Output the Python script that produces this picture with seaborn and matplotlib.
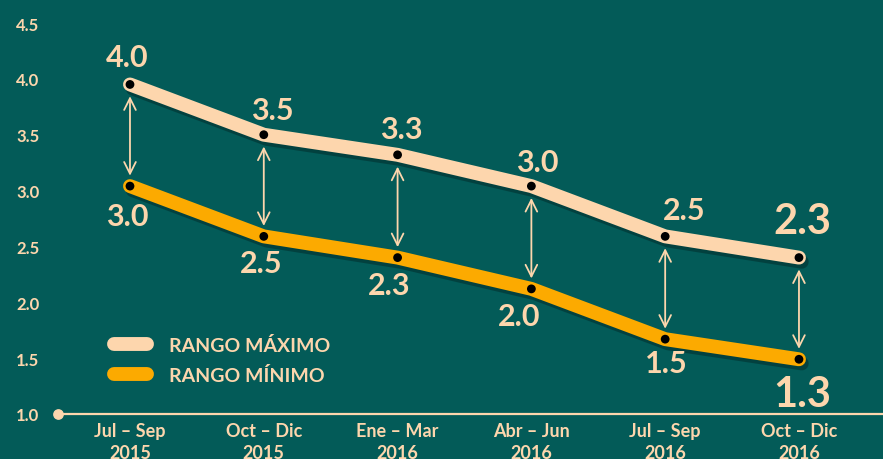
import matplotlib

matplotlib.use("Agg")
import matplotlib.patheffects as pe
import matplotlib.pyplot as plt
import numpy as np
import pandas as pd
import seaborn as sns

# data
periodos = [
    "Jul – Sep\n2015",
    "Oct – Dic\n2015",
    "Ene – Mar\n2016",
    "Abr – Jun\n2016",
    "Jul – Sep\n2016",
    "Oct – Dic\n2016",
]
rango_maximo = [3.95, 3.50, 3.32, 3.04, 2.59, 2.40]
rango_minimo = [3.04, 2.59, 2.40, 2.12, 1.67, 1.49]
etiquetas_max = ["4.0", "3.5", "3.3", "3.0", "2.5", "2.3"]
etiquetas_min = ["3.0", "2.5", "2.3", "2.0", "1.5", "1.3"]
y_ticks = [1.0, 1.5, 2.0, 2.5, 3.0, 3.5, 4.0, 4.5]

BG = "#035b58"
PEACH = "#fdd6ad"
ORANGE = "#fcaa00"

sns.set_theme(style="white")
plt.rcParams["font.family"] = ["Lato", "DejaVu Sans"]
plt.rcParams["font.weight"] = "bold"

fig = plt.figure(figsize=(8.83, 4.6), dpi=100, facecolor=BG)
ax = fig.add_axes([58 / 883, 45 / 460, 825 / 883, 391 / 460])
ax.set_facecolor(BG)

x = np.arange(len(periodos))
frame = pd.DataFrame(
    {
        "x": np.concatenate([x, x]),
        "valor": rango_maximo + rango_minimo,
        "serie": ["RANGO MÁXIMO"] * len(x) + ["RANGO MÍNIMO"] * len(x),
    }
)

shadow = [pe.SimpleLineShadow(offset=(2, -3), shadow_color="black", alpha=0.28), pe.Normal()]
sns.lineplot(
    data=frame,
    x="x",
    y="valor",
    hue="serie",
    palette={"RANGO MÁXIMO": PEACH, "RANGO MÍNIMO": ORANGE},
    linewidth=10,
    ax=ax,
    legend=True,
)
for line in ax.lines:
    line.set_solid_capstyle("round")
    line.set_solid_joinstyle("round")
    line.set_path_effects(shadow)

sns.scatterplot(
    data=frame, x="x", y="valor", color="black", s=40, edgecolor="none",
    legend=False, ax=ax, zorder=5,
)

# double arrows between the two ranges
for xi, hi, lo in zip(x, rango_maximo, rango_minimo):
    ax.annotate(
        "",
        xy=(xi, lo),
        xytext=(xi, hi),
        arrowprops=dict(
            arrowstyle="<->,head_length=0.7,head_width=0.35",
            color=PEACH,
            lw=1.3,
            shrinkA=8.5,
            shrinkB=7.5,
        ),
        zorder=3,
    )

off_max = [(-3, 27), (9, 25), (4, 26), (6, 24), (19, 26), (3, 37)]
off_min = [(-3, -30), (-3, -27), (-8, -27), (-12, -27), (1, -24), (3, -35)]
for i, (hi, lo) in enumerate(zip(rango_maximo, rango_minimo)):
    size = 30 if i == len(x) - 1 else 22
    ax.annotate(etiquetas_max[i], (i, hi), xytext=off_max[i], textcoords="offset pixels",
                ha="center", va="center", fontsize=size, fontweight="bold", color=PEACH)
    ax.annotate(etiquetas_min[i], (i, lo), xytext=off_min[i], textcoords="offset pixels",
                ha="center", va="center", fontsize=size, fontweight="bold", color=PEACH)

ax.set_xlim(-0.538, 5.628)
ax.set_ylim(1.0, 4.5)
ax.set_xticks(x)
ax.set_xticklabels(periodos, fontsize=13, fontweight="bold", color=PEACH, linespacing=1.3)
ax.set_yticks(y_ticks)
ax.set_yticklabels([f"{v:.1f}" for v in y_ticks], fontsize=12, fontweight="bold", color=PEACH)
ax.tick_params(axis="x", length=0, pad=6)
ax.tick_params(axis="y", length=0, pad=13.5)
ax.set_xlabel("")
ax.set_ylabel("")
ax.grid(False)

sns.despine(ax=ax, left=True, top=True, right=True)
ax.spines["bottom"].set_color(PEACH)
ax.spines["bottom"].set_linewidth(1.6)
ax.scatter([-0.538], [1.0], s=45, color=PEACH, clip_on=False, zorder=6)

leg = ax.legend(
    loc="upper left",
    bbox_to_anchor=(0.068, 0.2),
    frameon=False,
    fontsize=14,
    handlelength=1.7,
    handletextpad=1.1,
    labelspacing=0.62,
    borderpad=0,
    borderaxespad=0,
)
for text in leg.get_texts():
    text.set_color(PEACH)
    text.set_fontweight("bold")
for handle in leg.legend_handles:
    handle.set_solid_capstyle("round")
    handle.set_path_effects([])

fig.savefig("out.png", dpi=100, facecolor=BG)
